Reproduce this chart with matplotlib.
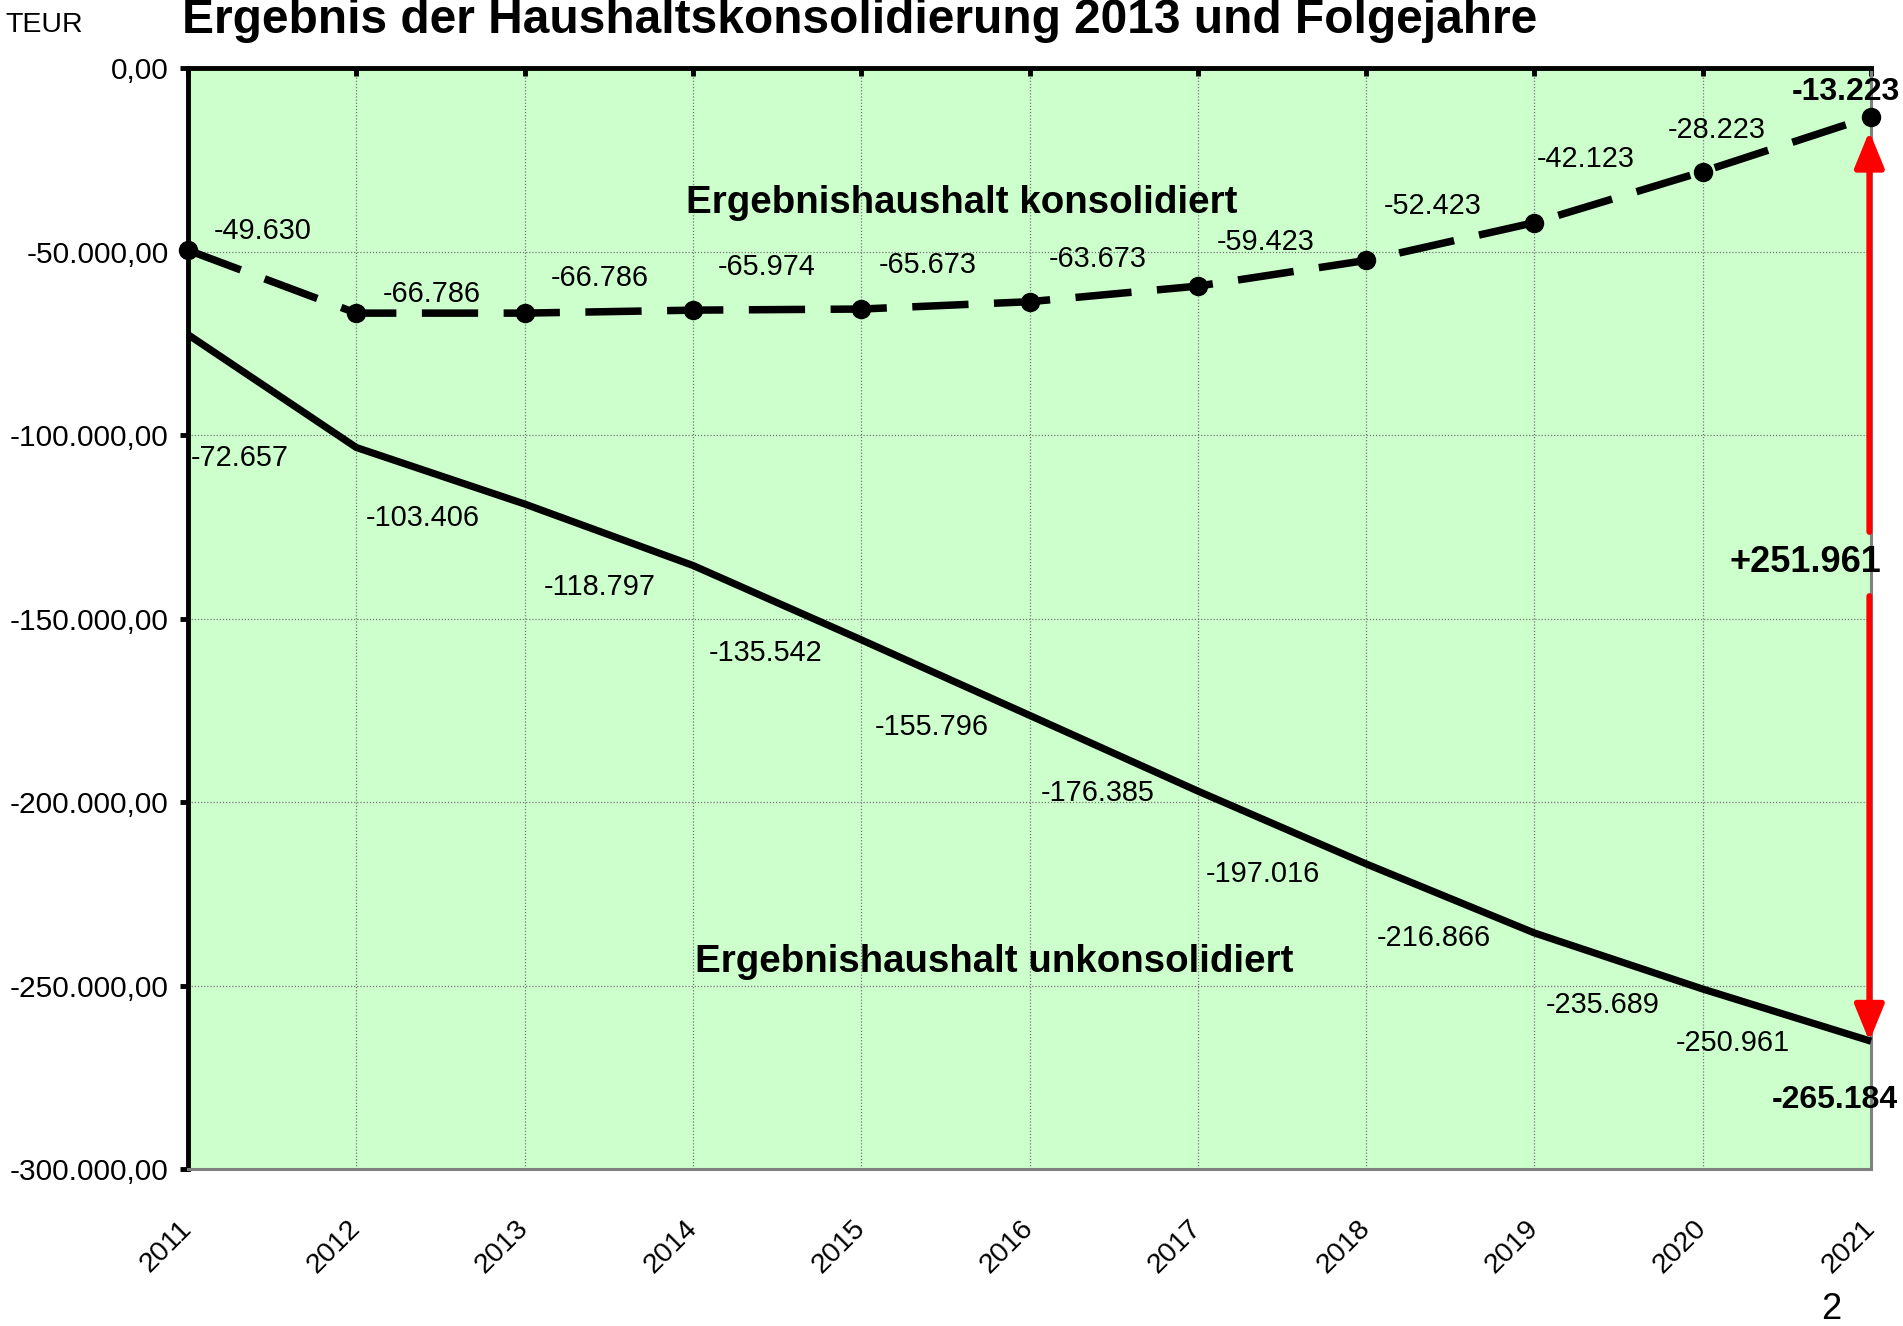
import numpy as np
import matplotlib
matplotlib.use("Agg")
import matplotlib.pyplot as plt

# --- Daten (TEUR) ---
jahre = [2011, 2012, 2013, 2014, 2015, 2016, 2017, 2018, 2019, 2020, 2021]
konsolidiert = [-49630, -66786, -66786, -65974, -65673, -63673, -59423, -52423, -42123, -28223, -13223]
unkonsolidiert = [-72657, -103406, -118797, -135542, -155796, -176385, -197016, -216866, -235689, -250961, -265184]
y_ticks = [0, -50000, -100000, -150000, -200000, -250000, -300000]

titel = "Ergebnis der Haushaltskonsolidierung 2013 und Folgejahre"

# Versatz der Datenbeschriftungen in Punkten (Layout, keine Daten)
off_kons = [(54, 14), (54, 14), (54, 25), (53, 31), (48, 32), (49, 31),
            (49, 32), (48, 39), (37, 46), (10, 30), (-18, 18)]
off_unk = [(37, -89), (48, -51), (54, -60), (52, -63), (51, -63), (49, -56),
           (47, -60), (49, -53), (49, -52), (22, -39), (-26, -42)]

NARROW = ["Liberation Sans", "DejaVu Sans"]
plt.rcParams["font.family"] = ["Liberation Sans", "DejaVu Sans"]


def de_int(v):
    return f"{v:,}".replace(",", ".")


def de_tick(v):
    s = f"{v:,.2f}"
    return s.replace(",", "X").replace(".", ",").replace("X", ".")


fig = plt.figure(figsize=(19.03, 13.26), dpi=100)
ax = fig.add_axes([0.0988, 0.1184, 0.9832 - 0.0988, 0.9487 - 0.1184])
ax.set_facecolor("#ccffcc")

ax.set_xlim(jahre[0], jahre[-1])
ax.set_ylim(-300000, 0)

# Gitter
ax.set_xticks(jahre)
ax.set_yticks(y_ticks)
ax.grid(True, color="#777777", linestyle=(0, (1, 1.5)), linewidth=0.9)
ax.set_axisbelow(True)

# Linien
ax.plot(jahre, unkonsolidiert, color="black", lw=5.2, solid_capstyle="butt",
        clip_on=False, zorder=3)
ax.plot(jahre, konsolidiert, color="black", lw=5.4, dashes=[7.5, 3.4],
        marker="o", markersize=13, clip_on=False, zorder=4)

# Datenbeschriftungen
n = len(jahre)
for i, (x, y) in enumerate(zip(jahre, konsolidiert)):
    last = i == n - 1
    ax.annotate(de_int(y), (x, y), xytext=off_kons[i], textcoords="offset points",
                ha="center", va="center", fontsize=23 if last else 20.8,
                fontweight="bold" if last else "normal", zorder=6,
                annotation_clip=False)
for i, (x, y) in enumerate(zip(jahre, unkonsolidiert)):
    last = i == n - 1
    ax.annotate(de_int(y), (x, y), xytext=off_unk[i], textcoords="offset points",
                ha="center", va="center", fontsize=23 if last else 20.8,
                fontweight="bold" if last else "normal", zorder=6,
                annotation_clip=False)

# Serienbezeichnungen
ax.text(2015.6, -36800, "Ergebnishaushalt konsolidiert", ha="center", va="center",
        fontsize=27.7, fontweight="bold")
ax.text(2015.79, -243600, "Ergebnishaushalt unkonsolidiert", ha="center", va="center",
        fontsize=27.7, fontweight="bold")

# Differenzpfeile
diff = konsolidiert[-1] - unkonsolidiert[-1]
mitte = (konsolidiert[-1] + unkonsolidiert[-1]) / 2
xa = jahre[-1] - 0.01
pfeil = dict(arrowstyle="-|>,head_length=1.1,head_width=0.45", color="red",
             lw=4.3, mutation_scale=20, shrinkA=0, shrinkB=0)
ax.annotate("", xy=(xa, konsolidiert[-1] - 4000), xytext=(xa, mitte + 12800),
            arrowprops=pfeil, annotation_clip=False, zorder=7)
ax.annotate("", xy=(xa, unkonsolidiert[-1]), xytext=(xa, mitte - 4700),
            arrowprops=pfeil, annotation_clip=False, zorder=7)
ax.text(jahre[-1] + 0.06, mitte + 4400, "+" + de_int(diff), ha="right", va="center",
        fontsize=26, fontweight="bold", zorder=8)

# Achsen
for s in ("left", "top"):
    ax.spines[s].set_color("black")
    ax.spines[s].set_linewidth(3.5)
for s in ("right", "bottom"):
    ax.spines[s].set_color("#808080")
    ax.spines[s].set_linewidth(2.2)

ax.set_yticklabels([de_tick(v) for v in y_ticks], family=NARROW, fontsize=21.5)
ax.tick_params(axis="y", direction="out", length=6, width=3.5, pad=8, color="black")
ax.set_xticklabels([str(j) for j in jahre], family=NARROW, fontsize=20.5,
                   rotation=45, ha="right", va="center", rotation_mode="anchor")
ax.tick_params(axis="x", bottom=False, top=True, labelbottom=True, labeltop=False,
               direction="in", length=6, width=3.5, pad=40, color="black")

fig.text(0.0956, 0.975, titel, fontsize=34.5, fontweight="bold", va="baseline")
fig.text(0.003, 0.976, "TEUR", family=NARROW, fontsize=20.5, va="baseline")
fig.text(0.9622, 0.005, "2", family=NARROW, fontsize=26, ha="center", va="baseline")

fig.savefig("out.png", dpi=100)
